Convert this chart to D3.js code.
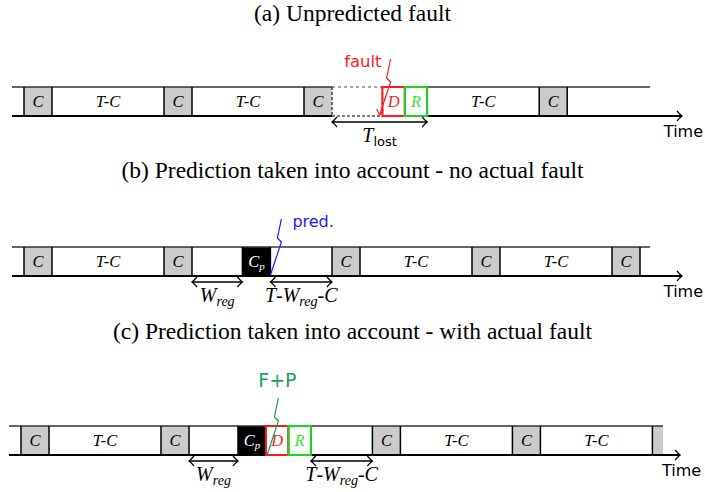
<!DOCTYPE html>
<html>
<head>
<meta charset="utf-8">
<script src="https://cdn.jsdelivr.net/npm/d3@7"></script>
<style>
body { margin: 0; background: #fff; }
svg { display: block; }
</style>
</head>
<body>
<div id="chart"></div>
<script>
// panel titles
const titles = [
    "(a) Unpredicted fault",
    "(b) Prediction taken into account - no actual fault",
    "(c) Prediction taken into account - with actual fault"
];

// segments of each timeline: [kind, duration in units of C]
const segmentsA = [["C",1],["T-C",4],["C",1],["T-C",4],["C",1],["lost",1.8],["D",0.8],["R",0.8],["T-C",4],["C",1]];
const segmentsB = [["C",1],["T-C",4],["C",1],["gap",1.8],["Cp",1],["gap",2.2],["C",1],["T-C",4],["C",1],["T-C",4],["C",1]];
const segmentsC = [["C",1],["T-C",4],["C",1],["gap",1.75],["Cp",1],["D",0.8],["R",0.8],["gap",2.2],["C",1],["T-C",4],["C",1],["T-C",4],["C",1]];

// dimension arrows under the timelines: [from, to, label]
const spansA = [[11, 14.4, "Tlost"]];
const spansB = [[6, 7.8, "Wreg"], [8.8, 11, "TWC"]];
const spansC = [[6, 7.75, "Wreg"], [10.35, 12.55, "TWC"]];

// events (lightning): [label, time]
const events = [["fault", 12.7], ["pred.", 8.8], ["F+P", 8.8]];
const eventColors = ["#ff1a1a", "#1a1aff", "#16a060"];

// timeline extents: [line start, top line end, axis end]
const extents = [[-0.43, 22.36, 23.5], [-0.43, 22.36, 23.5], [-0.43, 22.93, 23.54]];

const W = 705, H = 492;
const unit = 28;
const boxH = 29;
const rowTop = [87, 247, 426];
const rowX0 = [24, 24, 21];
const titleY = [21, 178, 339];

const svg = d3.select('#chart').append('svg')
    .attr('width', W).attr('height', H);

const serif = "'Liberation Serif', 'Times New Roman', serif";
const sans = "'DejaVu Sans', sans-serif";

const panels = [
    {seg: segmentsA, spans: spansA},
    {seg: segmentsB, spans: spansB},
    {seg: segmentsC, spans: spansC}
];

function arrowHead(g, x, y, dir) {
    // dir = +1 tip points left, -1 tip points right
    g.append('path')
        .attr('d', `M${x+dir*5},${y-5} Q${x+dir*1.5},${y-1} ${x},${y} Q${x+dir*1.5},${y+1} ${x+dir*5},${y+5}`)
        .attr('fill', 'none').attr('stroke', 'black').attr('stroke-width', 1.3);
}

function spanLabel(g, kind, x, y) {
    var t = g.append('text').attr('x', x).attr('y', y)
        .attr('text-anchor', 'middle').attr('font-family', serif).attr('font-size', 20);
    if (kind == "Tlost") {
        t.append('tspan').attr('font-style', 'italic').text('T');
        t.append('tspan').attr('font-family', sans).attr('font-size', 13).attr('dy', 4).text('lost');
    } else if (kind == "Wreg") {
        t.append('tspan').attr('font-style', 'italic').text('W');
        t.append('tspan').attr('font-style', 'italic').attr('font-size', 14).attr('dy', 4).text('reg');
    } else {
        t.append('tspan').attr('font-style', 'italic').text('T');
        t.append('tspan').text('-');
        t.append('tspan').attr('font-style', 'italic').text('W');
        t.append('tspan').attr('font-style', 'italic').attr('font-size', 14).attr('dy', 4).text('reg');
        t.append('tspan').attr('dy', -4).text('-');
        t.append('tspan').attr('font-style', 'italic').text('C');
    }
}

panels.forEach(function(p, i) {
    var g = svg.append('g');
    var x = d3.scaleLinear().domain([0, 1]).range([rowX0[i], rowX0[i] + unit]);
    var top = rowTop[i], bot = top + boxH;
    var ext = extents[i];

    // title
    g.append('text').attr('x', W / 2).attr('y', titleY[i])
        .attr('text-anchor', 'middle').attr('font-family', serif).attr('font-size', 23.5)
        .text(titles[i]);

    // cumulative positions
    var t0 = 0;
    var segs = p.seg.map(function(s) {
        var o = {kind: s[0], start: t0, end: t0 + s[1]};
        t0 += s[1];
        return o;
    });

    // fills
    g.selectAll('.fill').data(segs.filter(function(s) { return s.kind != "lost"; }))
        .enter().append('rect')
        .attr('x', function(s) { return x(s.start); })
        .attr('y', top)
        .attr('width', function(s) { return x(Math.min(s.end, ext[1])) - x(s.start); })
        .attr('height', boxH)
        .attr('fill', function(s) { return s.kind == "C" ? "#cbcbcb" : s.kind == "Cp" ? "black" : "white"; });

    // top and bottom lines, dashed across the lost segment
    var lost = segs.filter(function(s) { return s.kind == "lost"; })[0];
    var cutsTop = lost ? [[ext[0], lost.start], [lost.end, ext[1]]] : [[ext[0], ext[1]]];
    var cutsBot = lost ? [[ext[0], lost.start], [lost.end, ext[2]]] : [[ext[0], ext[2]]];
    cutsTop.forEach(function(c) {
        g.append('line').attr('x1', x(c[0])).attr('x2', x(c[1])).attr('y1', top).attr('y2', top)
            .attr('stroke', '#333').attr('stroke-width', 1.3);
    });
    cutsBot.forEach(function(c) {
        g.append('line').attr('x1', x(c[0])).attr('x2', x(c[1])).attr('y1', bot).attr('y2', bot)
            .attr('stroke', 'black').attr('stroke-width', 2);
    });
    if (lost) {
        g.append('line').attr('x1', x(lost.start)).attr('x2', x(lost.end)).attr('y1', top).attr('y2', top)
            .attr('stroke', '#888').attr('stroke-width', 1.3).attr('stroke-dasharray', '3,3');
        g.append('line').attr('x1', x(lost.start)).attr('x2', x(lost.end)).attr('y1', bot).attr('y2', bot)
            .attr('stroke', '#555').attr('stroke-width', 1.6).attr('stroke-dasharray', '3,2');
    }
    arrowHead(g, x(ext[2]), bot, -1);
    g.append('text').attr('x', x(ext[2]) + 21).attr('y', bot + 21).attr('text-anchor', 'end')
        .attr('font-family', sans).attr('font-size', 16).text('Time');

    // vertical edges
    var edges = [{t: 0, dashed: false}];
    segs.forEach(function(s, k) {
        var next = segs[k + 1];
        if (s.end > ext[1]) return;
        edges.push({t: s.end, dashed: s.kind == "lost" || (next && next.kind == "lost")});
    });
    g.selectAll('.edge').data(edges).enter().append('line')
        .attr('x1', function(e) { return x(e.t); })
        .attr('x2', function(e) { return x(e.t); })
        .attr('y1', top).attr('y2', bot)
        .attr('stroke', function(e) { return e.dashed ? '#444' : 'black'; })
        .attr('stroke-width', 1.5)
        .attr('stroke-dasharray', function(e) { return e.dashed ? '3,2' : null; });

    // coloured boxes D and R
    g.selectAll('.dr').data(segs.filter(function(s) { return s.kind == "D" || s.kind == "R"; }))
        .enter().append('rect')
        .attr('x', function(s) { return x(s.start); })
        .attr('y', top)
        .attr('width', function(s) { return x(s.end) - x(s.start); })
        .attr('height', boxH)
        .attr('fill', 'none')
        .attr('stroke', function(s) { return s.kind == "D" ? "#ff1a1a" : "#1fd41f"; })
        .attr('stroke-width', 2);

    // box labels
    segs.filter(function(s) { return ["C", "T-C", "Cp", "D", "R"].indexOf(s.kind) >= 0; })
        .forEach(function(s) {
            if (s.end > ext[1]) return;
            var t = g.append('text').attr('x', x((s.start + s.end) / 2)).attr('y', top + 19.5)
                .attr('text-anchor', 'middle').attr('font-family', serif).attr('font-size', 16.5)
                .attr('font-style', 'italic');
            if (s.kind == "Cp") {
                t.attr('fill', 'white');
                t.append('tspan').text('C');
                t.append('tspan').attr('font-size', 11).attr('dy', 3).text('p');
            } else {
                t.attr('fill', s.kind == "D" ? "#ff1a1a" : s.kind == "R" ? "#33e633" : "black")
                    .text(s.kind);
            }
        });

    // dimension arrows
    p.spans.forEach(function(sp) {
        var ay = bot + 6;
        g.append('line').attr('x1', x(sp[0])).attr('x2', x(sp[1])).attr('y1', ay).attr('y2', ay)
            .attr('stroke', 'black').attr('stroke-width', 1.3);
        arrowHead(g, x(sp[0]), ay, 1);
        arrowHead(g, x(sp[1]), ay, -1);
        spanLabel(g, sp[2], x((sp[0] + sp[1]) / 2), bot + 26);
    });

    // lightning
    var ev = events[i], col = eventColors[i];
    var tx = x(ev[1]), ty = bot - 1;
    var pts = [[0, 0], [11, -33], [7, -37], [11, -56]];
    g.append('path')
        .attr('d', d3.line()(pts.map(function(q) { return [tx + q[0], ty + q[1]]; })))
        .attr('fill', 'none').attr('stroke', col).attr('stroke-width', 1.2);
    var topX = tx + 11, topY = ty - 56;
    if (i == 0) {
        g.append('path')
            .attr('d', `M${tx-3},${ty-6} L${tx},${ty} L${tx+4},${ty-5}`)
            .attr('fill', 'none').attr('stroke', col).attr('stroke-width', 1.2);
        g.append('text').attr('x', topX - 9).attr('y', topY + 8).attr('text-anchor', 'end')
            .attr('font-family', sans).attr('font-size', 16.5).attr('fill', col).text(ev[0]);
    } else if (i == 1) {
        g.append('text').attr('x', topX + 11).attr('y', topY + 8)
            .attr('font-family', sans).attr('font-size', 16).attr('fill', col).text(ev[0]);
    } else {
        g.append('text').attr('x', topX - 1).attr('y', topY - 11).attr('text-anchor', 'middle')
            .attr('font-family', sans).attr('font-size', 19).attr('fill', col).text(ev[0]);
    }
});
</script>
</body>
</html>
